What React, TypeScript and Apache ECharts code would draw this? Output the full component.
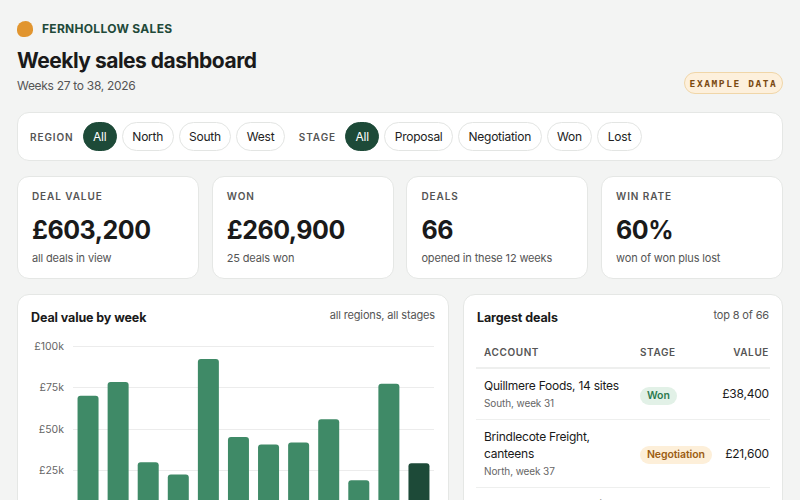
import React, { useEffect, useRef } from "react";
import * as echarts from "echarts";

const weeks = ["27", "28", "29", "30", "31", "32", "33", "34", "35", "36", "37", "38"];
const dealValues = [70000, 78300, 30000, 22600, 92200, 45200, 40600, 41900, 55900, 19200, 77200, 29300];
const yTicks = [0, 25000, 50000, 75000, 100000];
const regions = ["All", "North", "South", "West"];
const stages = ["All", "Proposal", "Negotiation", "Won", "Lost"];
const kpiLabels = ["DEAL VALUE", "WON", "DEALS", "WIN RATE"];
const kpiValues = ["£603,200", "£260,900", "66", "60%"];
const kpiNotes = ["all deals in view", "25 deals won", "opened in these 12 weeks", "won of won plus lost"];
const dealNames = ["Quillmere Foods, 14 sites", "Brindlecote Freight, canteens", "Foxgrove Dental, 12 sites"];
const dealMeta = ["South, week 31", "North, week 37", "West, week 29"];
const dealStages = ["Won", "Negotiation", "Proposal"];
const dealAmounts = ["£38,400", "£21,600", "£19,800"];

const FONT = "Inter, 'Noto Sans', 'DejaVu Sans', sans-serif";
const GREEN = "#1d4a38";
const BAR = "#3f8a67";

const card: React.CSSProperties = {
  position: "absolute",
  background: "#ffffff",
  border: "1px solid #e5e7e5",
  borderRadius: 12,
  boxSizing: "border-box",
};

const capsLabel: React.CSSProperties = {
  fontSize: 10,
  fontWeight: 600,
  letterSpacing: 0.9,
  color: "#555",
};

function Pill({ text, active }: { text: string; active: boolean }) {
  return (
    <div
      style={{
        height: 29,
        boxSizing: "border-box",
        padding: "0 9.5px",
        borderRadius: 15,
        border: active ? `1px solid ${GREEN}` : "1px solid #e3e5e3",
        background: active ? GREEN : "#fff",
        color: active ? "#fff" : "#222",
        fontSize: 12,
        letterSpacing: -0.25,
        display: "flex",
        alignItems: "center",
        marginRight: 5,
      }}
    >
      {text}
    </div>
  );
}

function BarChart() {
  const ref = useRef<HTMLDivElement>(null);
  useEffect(() => {
    if (!ref.current) return;
    const chart = echarts.init(ref.current, undefined, { renderer: "svg" });
    chart.setOption({
      animation: false,
      textStyle: { fontFamily: FONT },
      grid: { left: 55, right: 14, top: 15, bottom: 30 },
      xAxis: {
        type: "category",
        data: weeks,
        axisLine: { lineStyle: { color: "#dcdedc" } },
        axisTick: { show: false },
        axisLabel: { color: "#666", fontSize: 10.5 },
      },
      yAxis: {
        type: "value",
        min: yTicks[0],
        max: yTicks[yTicks.length - 1],
        interval: yTicks[1] - yTicks[0],
        axisLine: { show: false },
        axisTick: { show: false },
        splitLine: { lineStyle: { color: "#ececec" } },
        axisLabel: {
          color: "#666",
          fontSize: 10.5,
          margin: 9,
          formatter: (v: number) => (v === 0 ? "£0" : `£${v / 1000}k`),
        },
      },
      series: [
        {
          type: "bar",
          barWidth: 21,
          data: dealValues.map((v, i) => ({
            value: v,
            itemStyle: {
              color: i === dealValues.length - 1 ? GREEN : BAR,
              borderRadius: [3, 3, 0, 0],
            },
          })),
        },
      ],
    });
    return () => chart.dispose();
  }, []);
  return <div ref={ref} style={{ position: "absolute", left: 0, top: 36, width: 430, height: 211 }} />;
}

function StagePill({ stage }: { stage: string }) {
  const styles: Record<string, [string, string]> = {
    Won: ["#e2f1e7", "#2c7a4f"],
    Negotiation: ["#fdefd9", "#9c5d12"],
    Proposal: ["#e8eef7", "#3a5a8a"],
    Lost: ["#f5e4e4", "#9a3a3a"],
  };
  const [bg, fg] = styles[stage] || ["#eee", "#333"];
  return (
    <span
      style={{
        display: "inline-block",
        background: bg,
        color: fg,
        fontSize: 10.5,
        fontWeight: 600,
        letterSpacing: -0.1,
        lineHeight: "18px",
        padding: "0 7px",
        borderRadius: 9,
      }}
    >
      {stage}
    </span>
  );
}

export default function App() {
  return (
    <div
      style={{
        position: "absolute",
        left: 0,
        top: 0,
        width: 800,
        height: 600,
        overflow: "hidden",
        background: "#f3f4f3",
        fontFamily: FONT,
        color: "#1a1a1a",
      }}
    >
      {/* brand */}
      <div
        style={{
          position: "absolute",
          left: 17,
          top: 21,
          width: 16,
          height: 16,
          background: "#e1952f",
          borderRadius: "60% 50% 55% 40% / 55% 55% 45% 45%",
        }}
      />
      <div
        style={{
          position: "absolute",
          left: 42,
          top: 20,
          fontSize: 12,
          fontWeight: 700,
          letterSpacing: 0.3,
          color: "#1f4a3a",
          lineHeight: "18px",
        }}
      >
        FERNHOLLOW SALES
      </div>
      <div
        style={{
          position: "absolute",
          left: 17,
          top: 47,
          fontSize: 21,
          fontWeight: 700,
          letterSpacing: -0.5,
          lineHeight: "28px",
        }}
      >
        Weekly sales dashboard
      </div>
      <div
        style={{
          position: "absolute",
          left: 17,
          top: 77,
          fontSize: 12,
          letterSpacing: -0.3,
          color: "#555",
          lineHeight: "18px",
        }}
      >
        Weeks 27 to 38, 2026
      </div>
      <div
        style={{
          position: "absolute",
          left: 684,
          top: 72,
          width: 99,
          height: 22,
          boxSizing: "border-box",
          background: "#fdf0dc",
          border: "1px solid #f0d6a8",
          borderRadius: 11,
          display: "flex",
          alignItems: "center",
          justifyContent: "center",
          fontFamily: "'DejaVu Sans Mono', 'Liberation Mono', monospace",
          fontSize: 9.5,
          fontWeight: 700,
          letterSpacing: 1.6,
          color: "#7a4a12",
        }}
      >
        EXAMPLE DATA
      </div>

      {/* filters */}
      <div
        style={{
          ...card,
          left: 17,
          top: 112,
          width: 766,
          height: 49,
          display: "flex",
          alignItems: "center",
          paddingLeft: 12,
        }}
      >
        <div style={{ ...capsLabel, marginRight: 9 }}>REGION</div>
        {regions.map((r, i) => (
          <Pill key={"r" + r} text={r} active={i === 0} />
        ))}
        <div style={{ ...capsLabel, marginLeft: 9, marginRight: 9 }}>STAGE</div>
        {stages.map((s, i) => (
          <Pill key={"s" + s} text={s} active={i === 0} />
        ))}
      </div>

      {/* KPIs */}
      {kpiLabels.map((label, i) => (
        <div
          key={label}
          style={{
            ...card,
            left: 17 + i * 194.7,
            top: 176,
            width: 182,
            height: 103,
            padding: "12px 14px",
          }}
        >
          <div style={{ ...capsLabel, lineHeight: "14px" }}>{label}</div>
          <div style={{ fontSize: 25, fontWeight: 700, lineHeight: "32px", marginTop: 11, letterSpacing: -0.5 }}>
            {kpiValues[i]}
          </div>
          <div style={{ fontSize: 11, letterSpacing: -0.15, color: "#555", marginTop: 4, lineHeight: "16px" }}>
            {kpiNotes[i]}
          </div>
        </div>
      ))}

      {/* chart card */}
      <div style={{ ...card, left: 17, top: 294, width: 432, height: 280 }}>
        <div
          style={{
            position: "absolute",
            left: 13,
            top: 14,
            fontSize: 12.5,
            letterSpacing: -0.1,
            fontWeight: 700,
            lineHeight: "18px",
          }}
        >
          Deal value by week
        </div>
        <div
          style={{
            position: "absolute",
            right: 13,
            top: 11,
            fontSize: 11,
            letterSpacing: -0.15,
            color: "#555",
            lineHeight: "18px",
          }}
        >
          all regions, all stages
        </div>
        <BarChart />
      </div>

      {/* table card */}
      <div style={{ ...card, left: 463, top: 294, width: 320, height: 400 }}>
        <div
          style={{
            position: "absolute",
            left: 13,
            top: 14,
            fontSize: 12.5,
            letterSpacing: -0.1,
            fontWeight: 700,
            lineHeight: "18px",
          }}
        >
          Largest deals
        </div>
        <div
          style={{
            position: "absolute",
            right: 13,
            top: 11,
            fontSize: 11,
            letterSpacing: -0.15,
            color: "#555",
            lineHeight: "18px",
          }}
        >
          top 8 of 66
        </div>
        <table
          style={{
            position: "absolute",
            left: 12,
            top: 44,
            width: 294,
            borderCollapse: "collapse",
            fontFamily: FONT,
            tableLayout: "fixed",
          }}
        >
          <colgroup>
            <col style={{ width: 164 }} />
            <col style={{ width: 75 }} />
            <col style={{ width: 55 }} />
          </colgroup>
          <thead>
            <tr style={{ borderBottom: "2px solid #eeefee" }}>
              <th style={{ ...capsLabel, letterSpacing: 0.6, textAlign: "left", padding: "6px 8px 8px", lineHeight: "14px" }}>
                ACCOUNT
              </th>
              <th style={{ ...capsLabel, letterSpacing: 0.6, textAlign: "left", padding: "6px 0 8px", lineHeight: "14px" }}>
                STAGE
              </th>
              <th
                style={{ ...capsLabel, letterSpacing: 0.6, textAlign: "right", padding: "6px 1px 8px 0", lineHeight: "14px" }}
              >
                VALUE
              </th>
            </tr>
          </thead>
          <tbody>
            {dealNames.map((name, i) => (
              <tr key={name} style={{ borderBottom: "1px solid #eeefee" }}>
                <td style={{ padding: "8px 8px 7px", verticalAlign: "middle" }}>
                  <div style={{ fontSize: 12, letterSpacing: -0.25, lineHeight: "17.5px", color: "#1a1a1a" }}>{name}</div>
                  <div style={{ fontSize: 10, letterSpacing: -0.1, lineHeight: "17px", color: "#666" }}>
                    {dealMeta[i]}
                  </div>
                </td>
                <td style={{ padding: 0, verticalAlign: "middle" }}>
                  <StagePill stage={dealStages[i]} />
                </td>
                <td
                  style={{
                    padding: "0 1px 0 0",
                    textAlign: "right",
                    verticalAlign: "middle",
                    fontSize: 12,
                    letterSpacing: -0.2,
                    color: "#1a1a1a",
                  }}
                >
                  {dealAmounts[i]}
                </td>
              </tr>
            ))}
          </tbody>
        </table>
      </div>
    </div>
  );
}
